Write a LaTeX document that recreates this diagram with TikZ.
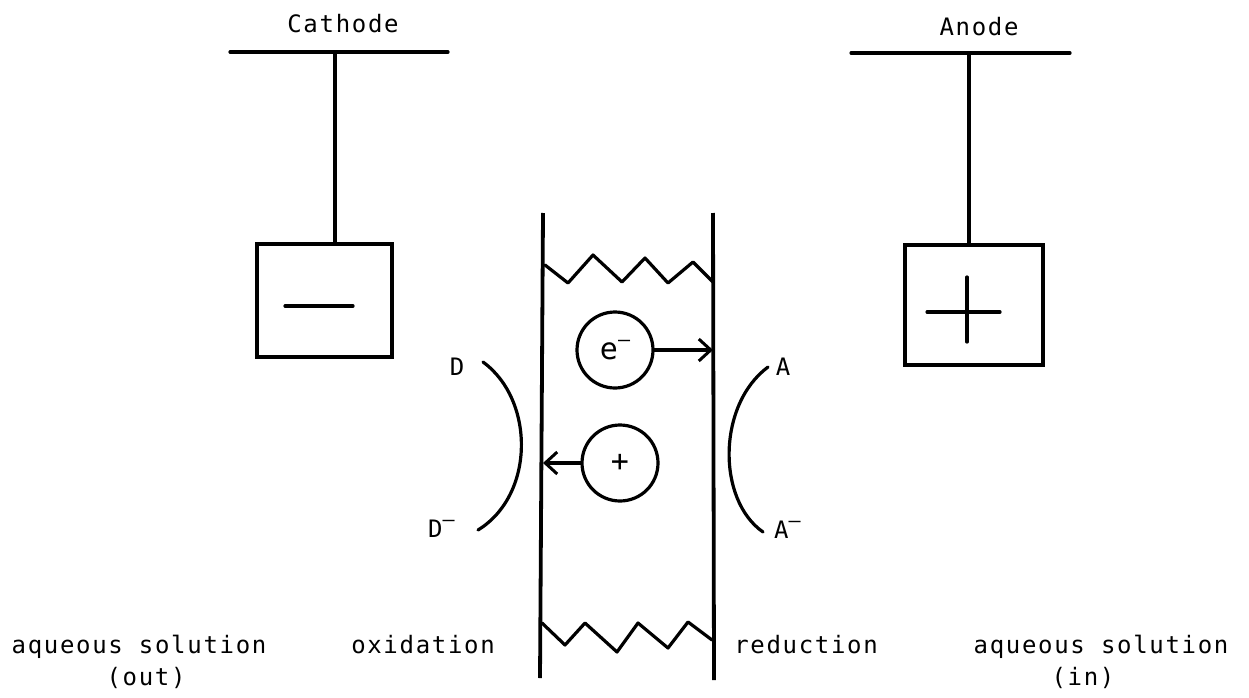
\documentclass[tikz,border=0pt]{standalone}
\usepackage{fontspec}
\setmainfont{DejaVu Sans Mono}[LetterSpace=7]
\usetikzlibrary{arrows.meta}
\newcommand{\supmin}{\raisebox{0.45em}{\fontsize{20}{20}\selectfont –}}
\begin{document}
\begin{tikzpicture}[x=1pt,y=-1pt,
  lbl/.style={font=\fontsize{24}{28}\selectfont, inner sep=0pt, anchor=base},
  thick line/.style={line width=3.2pt, line cap=round, line join=round},
  polebox/.style={draw, line width=3.2pt, minimum width=135pt, inner sep=0pt},
  ion/.style={draw, circle, line width=3.2pt, minimum size=76pt, inner sep=0pt, font=\fontsize{30}{34}\selectfont},
  arr/.style={thick line, -{Straight Barb[length=12pt,width=22pt,line width=3pt]}}]
\useasboundingbox (0,0) rectangle (1249,698);

% Cathode
\node[lbl] (cathode) at (343,33) {Cathode};
\coordinate (cbarL) at (230,52);
\coordinate (cbarR) at (448,52);
\coordinate (cbarM) at (335,52);
\draw[thick line] (cbarL) -- (cbarR);
\node[polebox, minimum height=113pt] (cbox) at (324.5,300.5) {};
\draw[thick line] (cbarM) -- (cbarM |- cbox.north);
\draw[thick line] (285,306) -- (353,306);

% Anode
\node[lbl] (anode) at (979,36) {Anode};
\coordinate (abarL) at (851,53);
\coordinate (abarR) at (1070,53);
\coordinate (abarM) at (969,53);
\draw[thick line] (abarL) -- (abarR);
\node[polebox, minimum width=138pt, minimum height=120pt] (abox) at (974,305) {};
\draw[thick line] (abarM) -- (abarM |- abox.north);
\draw[thick line] (927,312) -- (1000,312);
\draw[thick line] (967,277) -- (967,342);

% Membrane
\coordinate (mLt) at (543,213);
\coordinate (mLb) at (540,678);
\coordinate (mRt) at (713,213);
\coordinate (mRb) at (714,680);
\draw[line width=3.8pt] (mLt) -- (mLb);
\draw[line width=3.8pt] (mRt) -- (mRb);
\draw[thick line] (545,265) -- (568,283) -- (593,255) -- (622,282) -- (645,258) -- (668,283) -- (693,262) -- (713,282);
\draw[thick line] (542,623) -- (565,645) -- (585,623) -- (617,652) -- (638,623) -- (668,648) -- (688,622) -- (712,640);

% Ions
\node[ion] (el) at (615,350) {e\supmin};
\node[ion] (pl) at (620,463) {+};
\draw[arr] (el.east) -- (el.east -| mRt);
\draw[arr] (pl.west) -- (pl.west -| mLt);

% Arcs and labels
\node[lbl] (D) at (457,375) {D};
\node[lbl, anchor=base west] (Dm) at (428,537) {D\supmin};
\node[lbl] (A) at (783,375) {A};
\node[lbl, anchor=base west] (Am) at (774,538) {A\supmin};
\coordinate (dT) at (483,362);
\coordinate (dB) at (478,530);
\coordinate (aT) at (768,367);
\coordinate (aB) at (763,532);
\draw[thick line] (dT) .. controls (535,400) and (535,495) .. (dB);
\draw[thick line] (aT) .. controls (717,405) and (717,500) .. (aB);

% Bottom labels
\node[lbl] (aqout) at (139,653) {aqueous solution};
\node[lbl] (out) at (146,685) {(out)};
\node[lbl] (ox) at (423,653) {oxidation};
\node[lbl] (red) at (806,653) {reduction};
\node[lbl] (aqin) at (1101,653) {aqueous solution};
\node[lbl] (in) at (1083,685) {(in)};
\end{tikzpicture}
\end{document}
